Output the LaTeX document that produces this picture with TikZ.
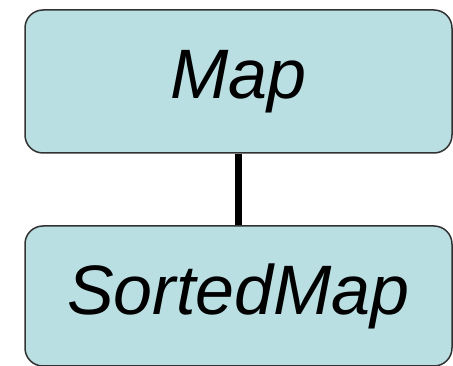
\documentclass[tikz,border=0pt]{standalone}
\usepackage{fontspec}
\setmainfont{Liberation Sans}
\definecolor{boxfill}{RGB}{185,223,227}
\definecolor{boxline}{RGB}{50,50,50}
\begin{document}
\begin{tikzpicture}[x=1pt,y=1pt,
  iface/.style={draw=boxline,line width=1.5pt,fill=boxfill,rounded corners=18pt,
    minimum width=427pt,inner sep=0pt,font=\fontsize{70}{80}\selectfont\itshape}]
\useasboundingbox (0,0) rectangle (453,-366);
\draw (238.5,-81.5) node[iface,minimum height=143pt] (map) {Map};
\draw (238.5,-296) node[iface,minimum height=140pt] (sorted) {SortedMap};
\draw[line width=7pt] (map.south) -- (sorted.north);
\end{tikzpicture}
\end{document}
